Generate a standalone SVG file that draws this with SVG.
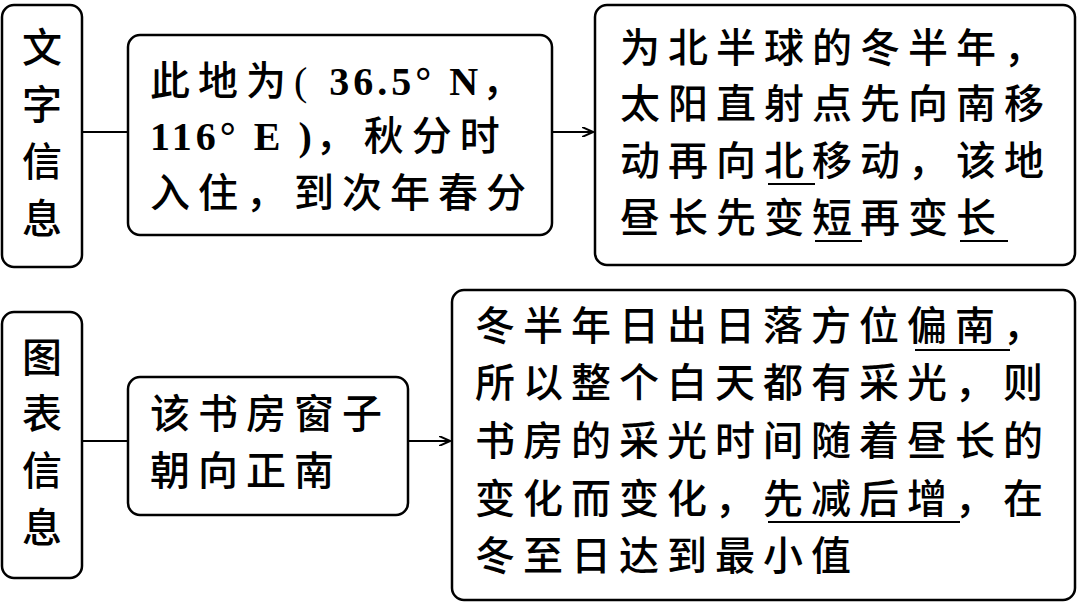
<svg xmlns="http://www.w3.org/2000/svg" width="1080" height="605" viewBox="0 0 1080 605">
<style>
.b{fill:#fff;stroke:#000;stroke-width:2.5}
.t{font-family:"Liberation Serif","Noto Sans CJK SC",serif;font-size:40px;font-weight:500;letter-spacing:8px;fill:#000}
.v{font-family:"Liberation Serif","Noto Sans CJK SC",serif;font-size:40px;font-weight:500;fill:#000;text-anchor:middle}
.l{letter-spacing:4px;font-weight:bold}
.c{stroke:#000;stroke-width:2;fill:none}
.u{stroke:#000;stroke-width:2}
</style>
<defs><marker id="a" markerWidth="12" markerHeight="10" refX="11" refY="5" orient="auto" markerUnits="userSpaceOnUse"><path d="M0,0 L11,5 L0,10" fill="none" stroke="#000" stroke-width="2"/></marker></defs>
<rect width="1080" height="605" fill="#fff"/>
<g id="connectors">
<path class="c" d="M82,132 H128"/>
<path class="c" d="M552,132 H593" marker-end="url(#a)"/>
<path class="c" d="M82,441 H128"/>
<path class="c" d="M408,441 H450" marker-end="url(#a)"/>
</g>
<g id="n1"><rect class="b" x="2" y="5" width="80" height="262" rx="12"/>
<text class="v" x="42" y="62">文</text><text class="v" x="42" y="119">字</text><text class="v" x="42" y="176">信</text><text class="v" x="42" y="233">息</text></g>
<g id="n2"><rect class="b" x="128" y="35" width="424" height="200" rx="12"/>
<text class="t" x="150" y="95">此地为(<tspan class="l"> 36.5° N</tspan>，</text>
<text class="t" x="150" y="150"><tspan class="l">116° E )</tspan>，秋分时</text>
<text class="t" x="150" y="207">入住，到次年春分</text></g>
<g id="n3"><rect class="b" x="595" y="5" width="480" height="260" rx="12"/>
<text class="t" x="620" y="62">为北半球的冬半年，</text>
<text class="t" x="620" y="118">太阳直射点先向南移</text>
<text class="t" x="620" y="175">动再向北移动，该地</text>
<text class="t" x="620" y="232">昼长先变短再变长</text>
<line class="u" x1="768" y1="184" x2="815" y2="184"/>
<line class="u" x1="815" y1="241" x2="862" y2="241"/>
<line class="u" x1="960" y1="241" x2="1008" y2="241"/></g>
<g id="n4"><rect class="b" x="2" y="312" width="80" height="266" rx="12"/>
<text class="v" x="42" y="372">图</text><text class="v" x="42" y="428">表</text><text class="v" x="42" y="485">信</text><text class="v" x="42" y="542">息</text></g>
<g id="n5"><rect class="b" x="128" y="377" width="280" height="138" rx="12"/>
<text class="t" x="150" y="428">该书房窗子</text>
<text class="t" x="150" y="485">朝向正南</text></g>
<g id="n6"><rect class="b" x="452" y="290" width="623" height="310" rx="12"/>
<text class="t" x="475" y="340">冬半年日出日落方位偏南，</text>
<text class="t" x="475" y="397">所以整个白天都有采光，则</text>
<text class="t" x="475" y="455">书房的采光时间随着昼长的</text>
<text class="t" x="475" y="513">变化而变化，先减后增，在</text>
<text class="t" x="475" y="570">冬至日达到最小值</text>
<line class="u" x1="915" y1="350" x2="1010" y2="350"/>
<line class="u" x1="768" y1="522" x2="960" y2="522"/></g>
</svg>
